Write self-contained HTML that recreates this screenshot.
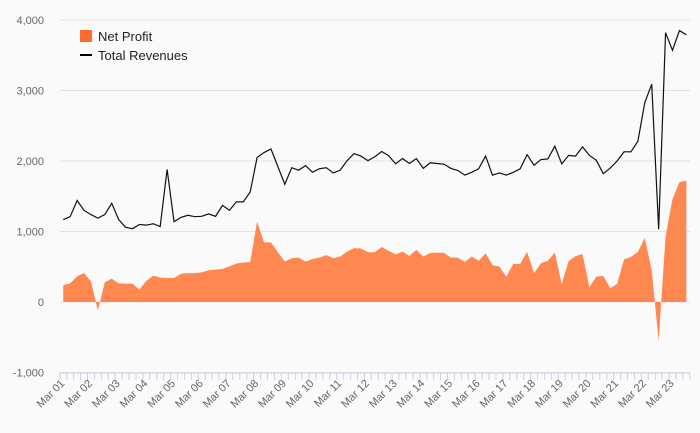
<!DOCTYPE html>
<html><head><meta charset="utf-8"><style>
body{margin:0;background:#fafafa;}
svg{display:block;font-family:"Liberation Sans",sans-serif;}
</style></head><body>
<svg id="chart" width="700" height="433"></svg>
<script>
const yTicks=[-1000,0,1000,2000,3000,4000];
const yTickLabels=["-1,000","0","1,000","2,000","3,000","4,000"];
const years=["01","02","03","04","05","06","07","08","09","10","11","12","13","14","15","16","17","18","19","20","21","22","23"];
const revenue=[1170,1210,1440,1300,1240,1190,1240,1400,1170,1060,1040,1100,1090,1110,1070,1880,1140,1200,1230,1210,1215,1250,1215,1370,1300,1420,1420,1560,2050,2120,2170,
1920,1670,1905,1870,1935,1840,1890,1905,1830,1870,2005,2105,2070,2005,2060,2135,2075,1960,2035,1965,2035,1895,1975,1965,1955,1895,1865,1800,1840,
1890,2070,1800,1830,1800,1840,1890,2090,1940,2020,2030,2210,1960,2080,2070,2200,2080,2010,1820,1900,2000,2130,2130,2280,2830,3090,1030,3820,3570,3850,3790];
const profit=[240,265,365,410,290,-120,280,330,265,260,260,175,300,375,345,340,340,400,410,410,420,450,460,470,505,545,560,565,1140,845,845,705,
575,620,630,575,610,630,665,620,645,715,765,760,705,705,780,725,675,715,655,740,645,695,700,695,630,630,570,645,
585,690,525,500,360,540,540,710,410,550,585,700,255,580,650,680,210,360,370,195,255,605,640,710,910,450,-550,930,1460,1700,1720];
const ns="http://www.w3.org/2000/svg";
const svg=document.getElementById('chart');
const X0=59.8,X1=689.8,N=revenue.length,BW=(X1-X0)/N;
function xs(i){return X0+BW*(i+0.5);}
function ys(v){return 302-v*0.0705;}
function mk(t,a,p){const e=document.createElementNS(ns,t);for(const k in a)e.setAttribute(k,a[k]);(p||svg).appendChild(e);return e;}
yTicks.forEach((v,i)=>{
  const g=mk('line',{x1:60,x2:690,y1:ys(v),y2:ys(v),stroke:'#e2e2e2','stroke-width':1});
  
  
  const t=mk('text',{x:44,y:ys(v)+4,'text-anchor':'end','font-size':11,fill:'#666'});
  t.textContent=yTickLabels[i];
  
  
});
// area
let d='M'+xs(0)+','+ys(0);
profit.forEach((v,i)=>{d+=' L'+xs(i)+','+ys(v);});
d+=' L'+xs(N-1)+','+ys(0)+' Z';
const area=mk('path',{d:d,fill:'#ff8750',stroke:'none'});


let d2='';
revenue.forEach((v,i)=>{d2+=(i?' L':'M')+xs(i)+','+ys(v);});
const ln=mk('path',{d:d2,fill:'none',stroke:'#111','stroke-width':1.2});


// x axis
const ax=mk('line',{x1:X0,x2:X1,y1:373,y2:373,stroke:'#c8d3e6'});


for(let i=0;i<=N;i++){
  const tk=mk('line',{x1:X0+BW*i,x2:X0+BW*i,y1:373,y2:380,stroke:'#c8d3e6'});
  
  
}
years.forEach((y,k)=>{
  const x=xs(k*4)+2,yy=384;
  const t=mk('text',{x:x,y:yy,'text-anchor':'end','font-size':11,fill:'#666',transform:'rotate(-45 '+x+' '+yy+')'});
  t.textContent='Mar '+y;
  
  
});
// legend
const lg=mk('g',{});


const sq=mk('rect',{x:80,y:30,width:12,height:12,fill:'#ff6b2b'},lg);


const t1=mk('text',{x:98,y:41,'font-size':13,fill:'#222'},lg);t1.textContent='Net Profit';


const sl=mk('line',{x1:80,x2:92,y1:55,y2:55,stroke:'#000','stroke-width':2},lg);


const t2=mk('text',{x:98,y:60,'font-size':13,fill:'#222'},lg);t2.textContent='Total Revenues';


</script>
</body></html>
